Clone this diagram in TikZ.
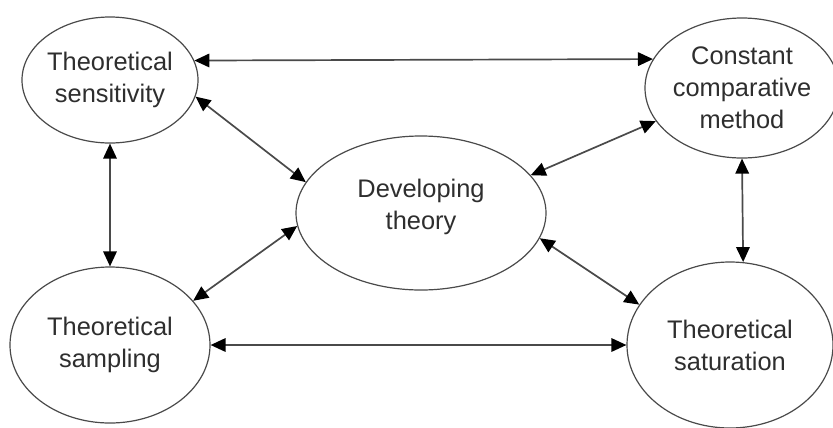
\documentclass[tikz,border=0pt]{standalone}
\usepackage{fontspec}
\setmainfont{Liberation Sans}
\usetikzlibrary{shapes.geometric,arrows.meta}
\definecolor{inkline}{HTML}{4A4A4A}
\definecolor{inktext}{HTML}{2E2E2E}
\begin{document}
\begin{tikzpicture}[x=1bp,y=-1bp,
  concept/.style={ellipse,draw=inkline,line width=1.2bp,inner sep=-6bp,
    align=center,text=inktext,font=\fontsize{25.5}{32}\selectfont},
  link/.style={draw=inkline,line width=1.7bp,
    {Triangle[length=15bp,width=13.5bp,color=black]}-{Triangle[length=15bp,width=13.5bp,color=black]}}]
\useasboundingbox (0,0) rectangle (833,427);
\node[concept,minimum width=176bp,minimum height=126bp] (sens) at (110,80) {Theoretical\\sensitivity};
\node[concept,minimum width=194bp,minimum height=140bp] (const) at (742,88) {Constant\\comparative\\method};
\node[concept,minimum width=250bp,minimum height=154bp,text depth=17bp] (dev) at (421,213) {Developing\\theory};
\node[concept,minimum width=200bp,minimum height=156bp] (samp) at (110,345) {Theoretical\\sampling};
\node[concept,minimum width=206bp,minimum height=166bp] (sat) at (730,345) {Theoretical\\saturation};
\draw[link] (sens.13.5) -- (const.162.6);
\draw[link] (sens.south) -- (samp.north);
\draw[link] (const.south) -- (sat.81.7);
\draw[link] (samp.east) -- (sat.west);
\draw[link] (sens.-11.3) -- (dev.165.6);
\draw[link] (const.-159.8) -- (dev.19.8);
\draw[link] (dev.186.5) -- (samp.28.5);
\draw[link] (dev.-12.1) -- (sat.156.5);
\end{tikzpicture}
\end{document}
